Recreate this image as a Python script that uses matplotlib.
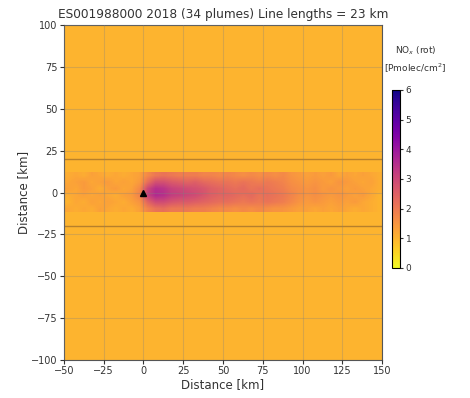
import numpy as np
import matplotlib.pyplot as plt
from matplotlib.colors import Normalize

title = 'ES001988000 2018 (34 plumes) Line lengths = 23 km'
background_no2 = 1.0
band_extent = (-50, 150, -11.5, 12)
source_xy = (0, 0)
levels = [20, -20]

# NOx (rot) in Pmolec/cm2, 5 km columns from -50 to 150, rows from y=+12 down to y=-12 (4 km each)
band_rows = [
    [1.1, 1.2, 1.1, 1.3, 1.2, 1.1, 1.2, 1.1, 1.2, 1.3, 1.7, 2.0, 2.1, 2.0, 1.9, 1.9, 1.9, 1.8, 1.8, 1.7,
     1.8, 1.7, 1.6, 1.7, 1.6, 1.7, 1.6, 1.7, 1.5, 1.4, 1.3, 1.4, 1.3, 1.4, 1.2, 1.3, 1.2, 1.3, 1.2, 1.1],
    [1.2, 1.3, 1.4, 1.2, 1.3, 1.4, 1.2, 1.3, 1.2, 1.4, 2.2, 2.8, 2.8, 2.6, 2.5, 2.4, 2.5, 2.3, 2.2, 2.1,
     2.1, 2.0, 2.1, 2.0, 1.9, 2.0, 1.9, 1.8, 1.6, 1.5, 1.4, 1.5, 1.4, 1.3, 1.5, 1.4, 1.3, 1.2, 1.3, 1.1],
    [1.3, 1.2, 1.4, 1.3, 1.1, 1.3, 1.4, 1.2, 1.3, 1.7, 3.0, 3.5, 3.4, 3.1, 3.0, 2.9, 2.8, 2.7, 2.5, 2.4,
     2.3, 2.2, 2.3, 2.1, 2.2, 2.1, 2.0, 1.9, 1.7, 1.6, 1.5, 1.6, 1.4, 1.5, 1.4, 1.3, 1.4, 1.3, 1.2, 1.1],
    [1.1, 1.2, 1.3, 1.2, 1.3, 1.2, 1.1, 1.3, 1.4, 1.8, 3.1, 3.6, 3.5, 3.2, 3.1, 3.0, 2.9, 2.7, 2.5, 2.4,
     2.4, 2.3, 2.2, 2.3, 2.1, 2.2, 2.1, 2.0, 1.8, 1.6, 1.5, 1.6, 1.5, 1.4, 1.5, 1.4, 1.3, 1.4, 1.2, 1.0],
    [1.0, 1.2, 1.1, 1.3, 1.2, 1.3, 1.2, 1.1, 1.3, 1.5, 2.4, 2.9, 2.9, 2.7, 2.6, 2.6, 2.5, 2.4, 2.3, 2.2,
     2.2, 2.1, 2.0, 2.1, 2.0, 2.1, 2.0, 1.9, 1.7, 1.5, 1.4, 1.5, 1.4, 1.3, 1.4, 1.3, 1.4, 1.2, 1.1, 1.0],
    [1.2, 1.1, 1.2, 1.1, 1.3, 1.2, 1.1, 1.2, 1.1, 1.3, 1.8, 2.1, 2.2, 2.0, 2.0, 2.0, 1.9, 1.9, 1.8, 1.7,
     1.7, 1.6, 1.7, 1.6, 1.7, 1.6, 1.5, 1.5, 1.4, 1.3, 1.3, 1.2, 1.3, 1.2, 1.3, 1.2, 1.1, 1.2, 1.1, 1.0],
]

x_ticks = [-50, -25, 0, 25, 50, 75, 100, 125, 150]
y_ticks = [-100, -75, -50, -25, 0, 25, 50, 75, 100]
cbar_ticks = [0, 1, 2, 3, 4, 5, 6]

cmap = plt.get_cmap('plasma_r')
norm = Normalize(vmin=0, vmax=6)

fig = plt.figure(figsize=(4.7, 3.98), dpi=100)
ax = fig.add_axes([0.136, 0.0955, 0.677, 0.8415])
ax.set_facecolor(cmap(norm(background_no2)))

im = ax.imshow(np.array(band_rows), cmap=cmap, norm=norm, extent=band_extent,
               interpolation='bilinear', aspect='auto', zorder=1)
for lv in levels:
    ax.axhline(lv, color='#9a6a2a', lw=1.0, alpha=0.7, zorder=2)
ax.plot(*source_xy, marker='^', color='black', ms=5, zorder=3)

ax.set_xlim(-50, 150)
ax.set_ylim(-100, 100)
ax.set_xticks(x_ticks)
ax.set_yticks(y_ticks)
ax.grid(True, color='gray', alpha=0.3, lw=0.8, zorder=1.5)
ax.set_axisbelow(False)
for sp in ax.spines.values():
    sp.set_color('#555555')
ax.tick_params(labelsize=7, length=3, pad=1.5, colors='#333333')
ax.set_xlabel('Distance [km]', fontsize=8.5, labelpad=1, color='#333333')
ax.set_ylabel('Distance [km]', fontsize=8.5, labelpad=1, color='#333333')
ax.set_title(title, fontsize=8.7, pad=5, color='#333333')

cax = fig.add_axes([0.834, 0.327, 0.017, 0.447])
cb = fig.colorbar(im, cax=cax, ticks=cbar_ticks)
cb.ax.tick_params(labelsize=6.5, length=2.5, pad=1.5, colors='#333333')
fig.text(0.884, 0.85, 'NO$_x$ (rot)\n[Pmolec/cm$^2$]', fontsize=6.5,
         ha='center', va='center', linespacing=1.4, color='#333333')

fig.savefig('out.png', dpi=100)
